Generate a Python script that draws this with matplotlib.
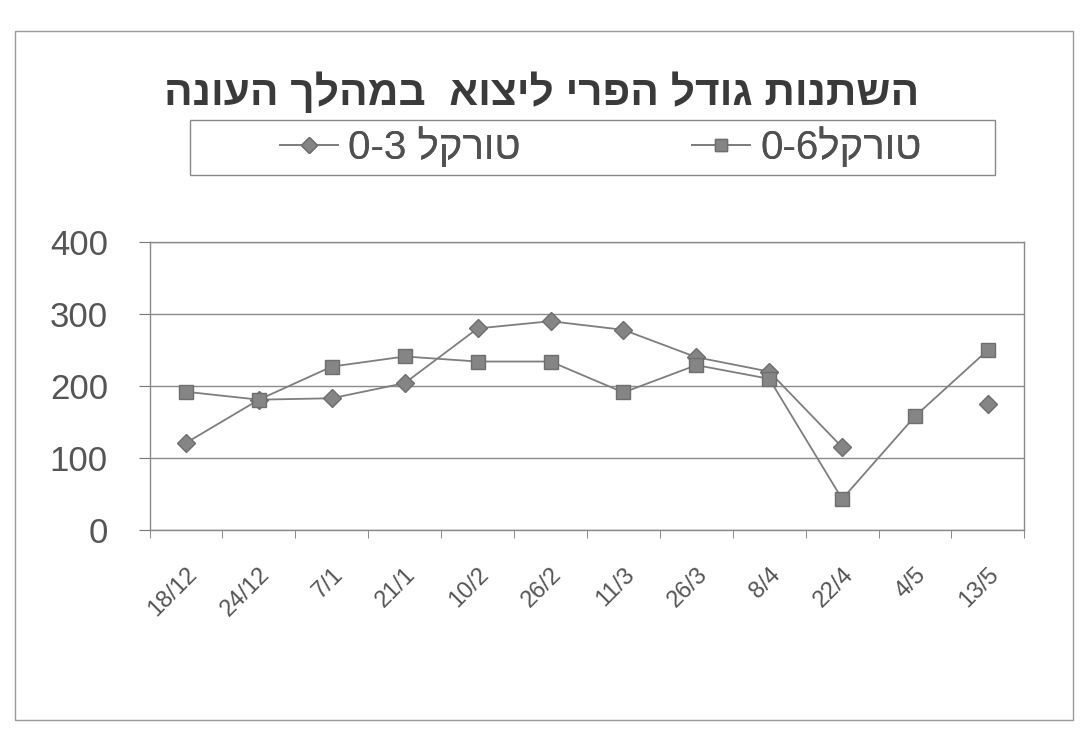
import numpy as np
import matplotlib
matplotlib.use("Agg")
import matplotlib.pyplot as plt
from matplotlib.patches import Rectangle

categories = ["18/12", "24/12", "7/1", "21/1", "10/2", "26/2", "11/3", "26/3", "8/4", "22/4", "4/5", "13/5"]
torkal_03 = [121, 181, 183, 204, 280, 290, 278, 240, 220, 115, np.nan, 175]
torkal_06 = [192, 181, 227, 241, 234, 234, 191, 229, 210, 43, 158, 250]
y_ticks = [0, 100, 200, 300, 400]

title_text = "השתנות גודל הפרי ליצוא  במהלך העונה"
label_03 = "0-3 " + "טורקל"[::-1]
label_06 = "0-6" + "טורקל"[::-1]

plt.rcParams['font.family'] = ['Liberation Sans', 'DejaVu Sans']

W, H = 1084, 729
fig = plt.figure(figsize=(W / 100, H / 100), dpi=100)
ax = fig.add_axes([0.138, 0.273, 0.807, 0.395])

x = np.arange(len(categories))
line_col = "#7e7e7e"
mk_col = "#858585"
mk_edge = "#6e6e6e"
l03, = ax.plot(x, torkal_03, color=line_col, lw=1.3, marker="D", ms=9.5,
               mfc=mk_col, mec=mk_edge, label=label_03)
l06, = ax.plot(x, torkal_06, color=line_col, lw=1.3, marker="s", ms=10.5,
               mfc=mk_col, mec=mk_edge, label=label_06)

ax.set_xlim(-0.5, len(categories) - 0.5)
ax.set_ylim(0, 400)
ax.set_yticks(y_ticks)
ax.set_yticklabels([str(v) for v in y_ticks], fontsize=25, color="#555555")
ax.yaxis.grid(True, color="#8a8a8a", lw=1)
ax.set_axisbelow(True)
ax.tick_params(axis="y", length=8, color="#777777", pad=22)

ax.set_xticks(x)
ax.set_xticklabels(categories, rotation=45, ha="right", va="top",
                   rotation_mode="anchor", fontsize=17, color="#555555")
ax.set_xticks(np.arange(len(categories) + 1) - 0.5, minor=True)
ax.tick_params(axis="x", which="major", length=0, pad=24)
ax.tick_params(axis="x", which="minor", length=6, color="#777777", direction="out")

for s in ["left", "bottom", "right", "top"]:
    ax.spines[s].set_color("#8a8a8a")
    ax.spines[s].set_linewidth(1)

fig.text(0.50, 1 - 93 / H, title_text[::-1], ha="center", va="center",
         fontsize=30.5, fontweight="bold", color="#3a3a3a")

# legend frame
leg_x0, leg_x1 = 190 / W, 995 / W
leg_yc, leg_h = 1 - 147 / H, 55 / H
fig.patches.append(Rectangle((leg_x0, leg_yc - leg_h / 2), leg_x1 - leg_x0, leg_h,
                             transform=fig.transFigure, fill=False,
                             edgecolor="#888888", lw=1))
leg_prop = {"family": ["Liberation Sans Narrow", "Liberation Sans", "DejaVu Sans"], "size": 29}
for handle, lab, xpos in [(l03, label_03, 280 / W), (l06, label_06, 692 / W)]:
    lg = fig.legend(handles=[handle], labels=[lab], loc="center left",
                    bbox_to_anchor=(xpos, leg_yc), prop=leg_prop, frameon=False,
                    borderpad=0, borderaxespad=0, handlelength=1.45,
                    handletextpad=0.25, markerscale=0.85, labelcolor="#505050")
    fig.add_artist(lg)

fig.patches.append(Rectangle((0.014, 0.012), 0.976, 0.945, transform=fig.transFigure,
                             fill=False, edgecolor="#999999", lw=1))

fig.savefig("out.png", dpi=100)
